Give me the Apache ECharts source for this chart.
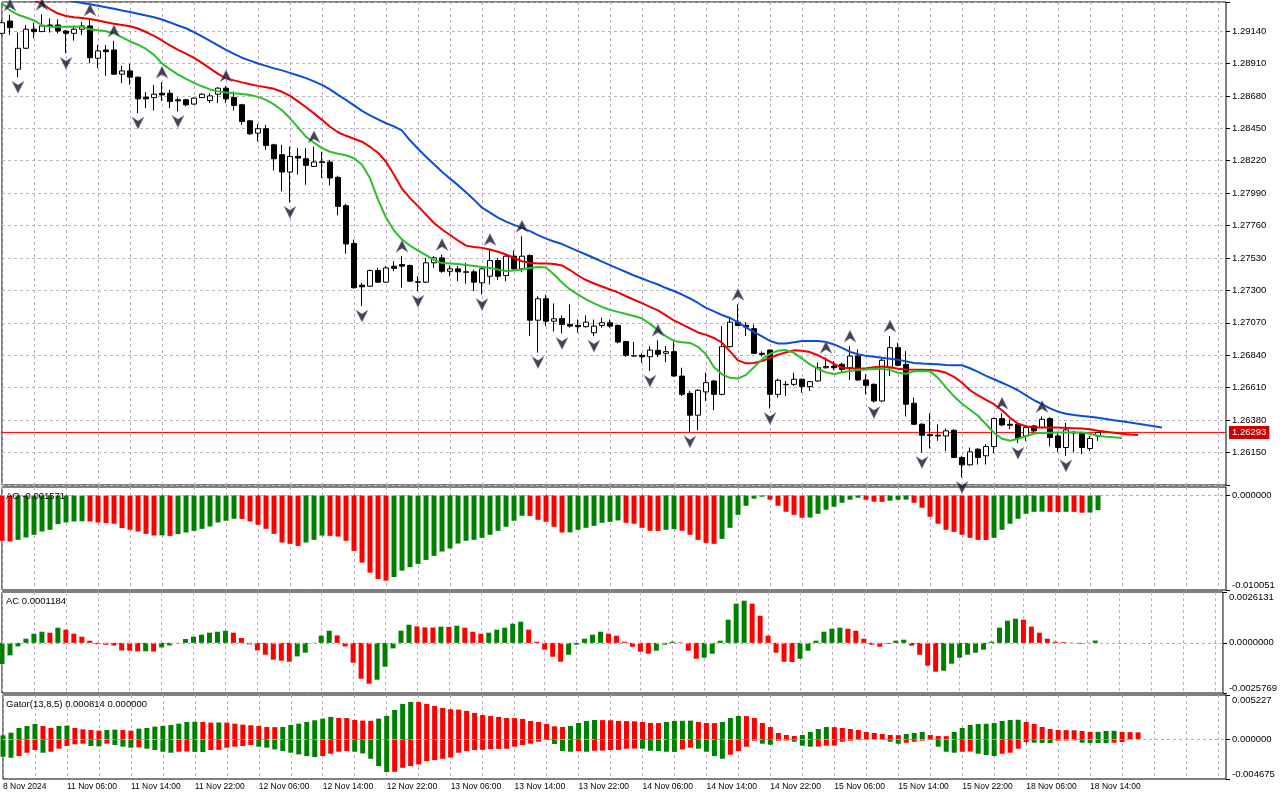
<!DOCTYPE html>
<html><head><meta charset="utf-8">
<script src="https://cdn.jsdelivr.net/npm/echarts/dist/echarts.min.js"></script>
<style>html,body{margin:0;padding:0;background:#fff}#c{width:1280px;height:800px}</style>
</head><body><div id="c"></div><script>
// ---- time tick labels (one every 8 hourly bars) ----
const tickLabels = ['8 Nov 2024','11 Nov 06:00','11 Nov 14:00','11 Nov 22:00','12 Nov 06:00','12 Nov 14:00','12 Nov 22:00','13 Nov 06:00','13 Nov 14:00','13 Nov 22:00','14 Nov 06:00','14 Nov 14:00','14 Nov 22:00','15 Nov 06:00','15 Nov 14:00','15 Nov 22:00','18 Nov 06:00','18 Nov 14:00'];
const slotCount = 154;
// ---- H1 candles ----
const opens = [1.29124,1.29211,1.28869,1.29018,1.29153,1.29136,1.29183,1.29183,1.29140,1.29124,
1.29153,1.29176,1.28947,1.29006,1.29006,1.28834,1.28857,1.28813,1.28671,1.28668,
1.28699,1.28699,1.28652,1.28652,1.28622,1.28668,1.28647,1.28692,1.28735,1.28668,
1.28617,1.28503,1.28416,1.28447,1.28333,1.28263,1.28140,1.28251,1.28234,1.28180,
1.28213,1.28211,1.28102,1.27901,1.27633,1.27337,1.27330,1.27441,1.27359,1.27472,
1.27484,1.27477,1.27361,1.27359,1.27496,1.27531,1.27436,1.27453,1.27432,1.27432,
1.27354,1.27401,1.27512,1.27406,1.27543,1.27453,1.27548,1.27089,1.27241,1.27082,
1.27101,1.27059,1.27052,1.27043,1.27000,1.27052,1.27071,1.27052,1.26937,1.26837,
1.26840,1.26830,1.26875,1.26854,1.26866,1.26693,1.26570,1.26415,1.26580,1.26658,
1.26563,1.26901,1.27075,1.27052,1.27029,1.26854,1.26877,1.26563,1.26631,1.26634,
1.26670,1.26618,1.26658,1.26752,1.26764,1.26776,1.26752,1.26835,1.26665,1.26634,
1.26516,1.26752,1.26894,1.26776,1.26500,1.26351,1.26277,1.26273,1.26268,1.26308,
1.26115,1.26063,1.26174,1.26127,1.26193,1.26391,1.26351,1.26351,1.26268,1.26339,
1.26328,1.26391,1.26268,1.26186,1.26294,1.26287,1.26179,1.26268];
const highs = [1.29218,1.29254,1.29129,1.29183,1.29199,1.29259,1.29230,1.29223,1.29148,1.29176,
1.29204,1.29218,1.29041,1.29041,1.29070,1.28893,1.28907,1.28815,1.28707,1.28758,
1.28777,1.28723,1.28668,1.28659,1.28670,1.28699,1.28699,1.28741,1.28751,1.28711,
1.28624,1.28510,1.28480,1.28475,1.28341,1.28333,1.28321,1.28310,1.28310,1.28319,
1.28284,1.28227,1.28114,1.27914,1.27661,1.27354,1.27448,1.27460,1.27472,1.27507,
1.27543,1.27484,1.27401,1.27531,1.27543,1.27555,1.27477,1.27472,1.27496,1.27448,
1.27459,1.27590,1.27531,1.27555,1.27583,1.27684,1.27555,1.27259,1.27271,1.27208,
1.27123,1.27201,1.27094,1.27123,1.27094,1.27106,1.27094,1.27059,1.26942,1.26934,
1.26854,1.26905,1.26946,1.26905,1.26934,1.26752,1.26587,1.26599,1.26717,1.26666,
1.27047,1.27113,1.27201,1.27075,1.27059,1.26868,1.26882,1.26675,1.26658,1.26717,
1.26675,1.26658,1.26788,1.26825,1.26799,1.26788,1.26905,1.26882,1.26705,1.26641,
1.26816,1.26976,1.26929,1.26870,1.26540,1.26358,1.26429,1.26351,1.26321,1.26316,
1.26127,1.26186,1.26181,1.26209,1.26397,1.26429,1.26386,1.26355,1.26344,1.26344,
1.26406,1.26401,1.26287,1.26360,1.26304,1.26297,1.26268,1.26297];
const lows = [1.29112,1.29112,1.28813,1.29013,1.29089,1.29133,1.29129,1.29124,1.28983,1.29072,
1.29112,1.28912,1.28876,1.28822,1.28829,1.28770,1.28758,1.28558,1.28593,1.28576,
1.28645,1.28593,1.28569,1.28605,1.28617,1.28666,1.28629,1.28629,1.28629,1.28576,
1.28475,1.28404,1.28357,1.28298,1.28151,1.28003,1.27925,1.28121,1.28050,1.28176,
1.28098,1.28045,1.27833,1.27560,1.27314,1.27189,1.27325,1.27353,1.27353,1.27436,
1.27319,1.27360,1.27295,1.27353,1.27460,1.27425,1.27401,1.27366,1.27349,1.27295,
1.27271,1.27342,1.27373,1.27366,1.27448,1.27429,1.26976,1.26859,1.27047,1.27009,
1.26995,1.27036,1.27000,1.27036,1.26976,1.27036,1.27036,1.26925,1.26828,1.26828,
1.26788,1.26728,1.26828,1.26792,1.26687,1.26551,1.26297,1.26308,1.26516,1.26452,
1.26556,1.26894,1.27047,1.26976,1.26849,1.26832,1.26462,1.26540,1.26551,1.26622,
1.26575,1.26587,1.26652,1.26745,1.26735,1.26717,1.26665,1.26658,1.26563,1.26505,
1.26510,1.26693,1.26762,1.26406,1.26344,1.26151,1.26179,1.26233,1.26160,1.26110,
1.25974,1.26057,1.26065,1.26065,1.26146,1.26337,1.26316,1.26217,1.26233,1.26292,
1.26321,1.26193,1.26151,1.26127,1.26151,1.26139,1.26162,1.26233];
const closes = [1.29199,1.29164,1.29018,1.29153,1.29136,1.29176,1.29176,1.29140,1.29124,1.29153,
1.29176,1.28951,1.28999,1.28994,1.28834,1.28857,1.28813,1.28659,1.28659,1.28692,
1.28687,1.28640,1.28645,1.28617,1.28664,1.28692,1.28680,1.28735,1.28659,1.28612,
1.28498,1.28411,1.28447,1.28328,1.28234,1.28140,1.28251,1.28239,1.28187,1.28211,
1.28208,1.28098,1.27896,1.27630,1.27319,1.27326,1.27441,1.27359,1.27460,1.27456,
1.27472,1.27366,1.27359,1.27496,1.27531,1.27436,1.27453,1.27432,1.27429,1.27359,
1.27453,1.27512,1.27401,1.27543,1.27453,1.27543,1.27089,1.27241,1.27082,1.27099,
1.27059,1.27047,1.27043,1.27075,1.27047,1.27071,1.27047,1.26934,1.26840,1.26835,
1.26830,1.26877,1.26847,1.26866,1.26693,1.26563,1.26415,1.26592,1.26646,1.26563,
1.26901,1.27075,1.27052,1.27040,1.26854,1.26847,1.26563,1.26663,1.26634,1.26670,
1.26618,1.26653,1.26752,1.26760,1.26752,1.26740,1.26835,1.26665,1.26627,1.26516,
1.26805,1.26894,1.26769,1.26493,1.26351,1.26273,1.26271,1.26268,1.26304,1.26115,
1.26063,1.26155,1.26115,1.26193,1.26391,1.26346,1.26344,1.26250,1.26328,1.26304,
1.26386,1.26257,1.26186,1.26311,1.26289,1.26186,1.26250,1.26293];
const lastPrice = 1.26293;
// ---- Alligator (values as drawn, already shifted) ----
const jaw = [1.29452,1.29441,1.29431,1.29417,1.29406,1.29395,1.29385,1.29374,1.29360,1.29349,
1.29339,1.29330,1.29320,1.29309,1.29298,1.29286,1.29275,1.29263,1.29250,1.29238,
1.29222,1.29201,1.29179,1.29160,1.29133,1.29102,1.29070,1.29038,1.29006,1.28978,
1.28951,1.28930,1.28910,1.28893,1.28875,1.28861,1.28843,1.28825,1.28806,1.28783,
1.28758,1.28726,1.28687,1.28652,1.28613,1.28574,1.28542,1.28514,1.28486,1.28464,
1.28433,1.28365,1.28305,1.28248,1.28195,1.28142,1.28093,1.28047,1.27997,1.27944,
1.27887,1.27852,1.27817,1.27788,1.27765,1.27744,1.27721,1.27693,1.27668,1.27647,
1.27629,1.27604,1.27579,1.27555,1.27530,1.27505,1.27480,1.27455,1.27431,1.27406,
1.27385,1.27363,1.27342,1.27317,1.27296,1.27271,1.27243,1.27211,1.27176,1.27151,
1.27126,1.27105,1.27073,1.27038,1.27005,1.26974,1.26942,1.26924,1.26924,1.26932,
1.26941,1.26942,1.26942,1.26934,1.26917,1.26893,1.26864,1.26847,1.26836,1.26829,
1.26822,1.26815,1.26808,1.26797,1.26786,1.26781,1.26779,1.26776,1.26772,1.26770,
1.26769,1.26748,1.26723,1.26694,1.26670,1.26645,1.26620,1.26592,1.26556,1.26521,
1.26493,1.26464,1.26440,1.26425,1.26416,1.26410,1.26404,1.26397,1.26388,1.26379,
1.26372,1.26363,1.26355,1.26345,1.26337,1.26328];
const teeth = [1.29445,1.29417,1.29395,1.29374,1.29356,1.29335,1.29296,1.29264,1.29247,1.29238,
1.29233,1.29225,1.29215,1.29202,1.29192,1.29183,1.29174,1.29158,1.29133,1.29105,
1.29073,1.29038,1.29006,1.28980,1.28949,1.28914,1.28875,1.28836,1.28804,1.28790,
1.28776,1.28763,1.28751,1.28742,1.28730,1.28709,1.28680,1.28641,1.28599,1.28556,
1.28510,1.28461,1.28422,1.28397,1.28376,1.28355,1.28319,1.28277,1.28213,1.28121,
1.28022,1.27955,1.27898,1.27838,1.27778,1.27732,1.27693,1.27654,1.27618,1.27608,
1.27602,1.27590,1.27574,1.27555,1.27530,1.27507,1.27496,1.27491,1.27491,1.27487,
1.27477,1.27445,1.27406,1.27374,1.27349,1.27328,1.27307,1.27286,1.27259,1.27234,
1.27210,1.27184,1.27158,1.27123,1.27087,1.27059,1.27031,1.27002,1.26985,1.26963,
1.26929,1.26868,1.26804,1.26783,1.26786,1.26799,1.26822,1.26844,1.26861,1.26875,
1.26873,1.26863,1.26840,1.26811,1.26779,1.26752,1.26748,1.26745,1.26749,1.26755,
1.26760,1.26755,1.26744,1.26739,1.26738,1.26737,1.26735,1.26731,1.26716,1.26687,
1.26645,1.26592,1.26556,1.26524,1.26493,1.26450,1.26397,1.26355,1.26337,1.26328,
1.26328,1.26328,1.26327,1.26325,1.26323,1.26321,1.26316,1.26305,1.26298,1.26291,
1.26284,1.26279,1.26275];
const lips = [1.29339,1.29286,1.29256,1.29236,1.29215,1.29181,1.29171,1.29170,1.29171,1.29172,
1.29171,1.29153,1.29145,1.29138,1.29123,1.29095,1.29066,1.29043,1.29013,1.28971,
1.28910,1.28868,1.28831,1.28801,1.28772,1.28748,1.28726,1.28712,1.28704,1.28698,
1.28693,1.28687,1.28673,1.28652,1.28620,1.28578,1.28521,1.28457,1.28390,1.28348,
1.28309,1.28284,1.28270,1.28259,1.28238,1.28192,1.28096,1.27944,1.27817,1.27725,
1.27661,1.27618,1.27583,1.27551,1.27516,1.27494,1.27491,1.27487,1.27480,1.27473,
1.27466,1.27459,1.27448,1.27438,1.27441,1.27448,1.27459,1.27466,1.27463,1.27413,
1.27356,1.27307,1.27271,1.27236,1.27208,1.27183,1.27162,1.27148,1.27133,1.27119,
1.27101,1.27063,1.27017,1.26974,1.26942,1.26932,1.26928,1.26900,1.26847,1.26755,
1.26705,1.26680,1.26675,1.26701,1.26755,1.26811,1.26850,1.26873,1.26877,1.26857,
1.26816,1.26776,1.26743,1.26719,1.26707,1.26719,1.26729,1.26735,1.26740,1.26745,
1.26743,1.26737,1.26716,1.26709,1.26726,1.26728,1.26726,1.26680,1.26613,1.26549,
1.26496,1.26454,1.26411,1.26351,1.26291,1.26248,1.26234,1.26248,1.26266,1.26285,
1.26289,1.26291,1.26292,1.26292,1.26292,1.26292,1.26284,1.26270,1.26263,1.26258,
1.26254];
// ---- Fractals (bar indices) ----
const fractalUp = [1,5,11,14,20,28,39,50,55,61,65,82,92,103,106,111,125,130];
const fractalDown = [2,8,17,22,36,45,52,60,67,70,74,81,86,96,109,115,120,127,133];
// ---- Awesome Oscillator ----
const ao = [-0.00483,-0.00491,-0.00473,-0.00448,-0.00419,-0.00384,-0.00366,-0.00306,-0.00288,-0.00278,
-0.00276,-0.00278,-0.00288,-0.00295,-0.00302,-0.00348,-0.00366,-0.00384,-0.00409,-0.00427,
-0.00425,-0.00431,-0.00412,-0.00395,-0.00377,-0.00356,-0.00331,-0.00288,-0.00270,-0.00249,
-0.00251,-0.00278,-0.00313,-0.00356,-0.00409,-0.00501,-0.00515,-0.00537,-0.00501,-0.00473,
-0.00427,-0.00430,-0.00438,-0.00483,-0.00590,-0.00714,-0.00821,-0.00888,-0.00906,-0.00867,
-0.00800,-0.00763,-0.00728,-0.00686,-0.00643,-0.00597,-0.00565,-0.00512,-0.00483,-0.00473,
-0.00451,-0.00419,-0.00377,-0.00334,-0.00270,-0.00217,-0.00219,-0.00260,-0.00281,-0.00334,
-0.00395,-0.00393,-0.00366,-0.00345,-0.00324,-0.00292,-0.00281,-0.00267,-0.00292,-0.00302,
-0.00345,-0.00377,-0.00378,-0.00366,-0.00359,-0.00377,-0.00419,-0.00473,-0.00505,-0.00515,
-0.00462,-0.00345,-0.00207,-0.00111,-0.00036,-0.00015,-0.00047,-0.00111,-0.00175,-0.00207,
-0.00238,-0.00236,-0.00196,-0.00153,-0.00121,-0.00079,-0.00047,-0.00026,-0.00047,-0.00068,
-0.00069,-0.00057,-0.00047,-0.00046,-0.00079,-0.00132,-0.00228,-0.00302,-0.00366,-0.00388,
-0.00419,-0.00451,-0.00473,-0.00474,-0.00451,-0.00366,-0.00302,-0.00249,-0.00196,-0.00175,
-0.00174,-0.00176,-0.00177,-0.00175,-0.00176,-0.00185,-0.00182,-0.001571];
// ---- Accelerator Oscillator ----
const ac = [-0.001087,-0.000645,-0.000182,0.000213,0.000470,0.000573,0.000522,0.000779,0.000676,0.000470,
0.000316,0.000110,-0.000070,-0.000100,-0.000131,-0.000388,-0.000403,-0.000439,-0.000430,-0.000445,
-0.000234,-0.000131,-0.000010,0.000198,0.000316,0.000419,0.000522,0.000573,0.000624,0.000522,
0.000249,-0.000080,-0.000388,-0.000609,-0.000866,-0.000917,-0.000969,-0.000696,-0.000506,0.000010,
0.000367,0.000624,0.000383,-0.000182,-0.001020,-0.001842,-0.002099,-0.001894,-0.001226,-0.000285,
0.000624,0.000933,0.000845,0.000794,0.000790,0.000830,0.000820,0.000881,0.000779,0.000573,
0.000470,0.000522,0.000676,0.000779,0.000984,0.001087,0.000676,0.000059,-0.000352,-0.000712,
-0.000969,-0.000609,-0.000095,0.000213,0.000419,0.000573,0.000470,0.000367,0.000059,-0.000198,
-0.000455,-0.000558,-0.000403,-0.000095,0.000059,0.000020,-0.000403,-0.000815,-0.000763,-0.000558,
0.000110,0.001190,0.002012,0.002166,0.002012,0.001395,0.000367,-0.000506,-0.000969,-0.000985,
-0.000815,-0.000403,0.000110,0.000573,0.000727,0.000779,0.000727,0.000624,0.000213,-0.000095,
-0.000198,-0.000044,0.000110,0.000162,-0.000146,-0.000609,-0.001174,-0.001483,-0.001431,-0.001071,
-0.000763,-0.000609,-0.000506,-0.000352,0.000059,0.000779,0.001138,0.001241,0.001190,0.000830,
0.000522,0.000213,0.000059,0.000040,0.000010,-0.000044,-0.000010,0.0001184];
// ---- Gator Oscillator (upper / lower histograms) ----
const gatorUp = [0.000473,0.000789,0.001341,0.001577,0.001814,0.001577,0.001341,0.001577,0.001617,0.001341,
0.001183,0.001104,0.001025,0.001104,0.001143,0.001104,0.001025,0.001262,0.001341,0.001498,
0.001577,0.001695,0.001853,0.002050,0.002070,0.002050,0.001972,0.001991,0.001972,0.001853,
0.001735,0.001656,0.001577,0.001459,0.001439,0.001459,0.001695,0.001853,0.002050,0.002248,
0.002445,0.002642,0.002524,0.002504,0.002287,0.002208,0.002188,0.002445,0.002760,0.003470,
0.004180,0.004416,0.004396,0.004180,0.003943,0.003706,0.003549,0.003509,0.003352,0.003115,
0.002878,0.002760,0.002642,0.002524,0.002504,0.002405,0.002169,0.002050,0.001814,0.001538,
0.001459,0.001577,0.001932,0.002169,0.002287,0.002267,0.002248,0.002169,0.002149,0.002129,
0.002050,0.001932,0.001912,0.002050,0.002169,0.002188,0.002208,0.002050,0.001932,0.001912,
0.002050,0.002524,0.002760,0.002740,0.002524,0.001932,0.001459,0.000749,0.000513,0.000394,
0.000513,0.000867,0.001222,0.001459,0.001439,0.001341,0.001222,0.001104,0.000867,0.000749,
0.000631,0.000513,0.000493,0.000631,0.000749,0.000867,0.000513,0.000394,0.000375,0.000867,
0.001341,0.001695,0.001814,0.001833,0.001932,0.002169,0.002287,0.002307,0.002050,0.001814,
0.001459,0.001222,0.001104,0.001084,0.001065,0.000986,0.000867,0.000887,0.000986,0.001005,
0.000867,0.000848,0.000828];
const gatorDown = [-0.002050,-0.002169,-0.001972,-0.001577,-0.001262,-0.001577,-0.001459,-0.001104,-0.000789,-0.000591,
-0.000513,-0.000789,-0.000828,-0.000513,-0.000670,-0.000867,-0.000986,-0.000946,-0.001104,-0.001262,
-0.001459,-0.001577,-0.001459,-0.001439,-0.001479,-0.001498,-0.001262,-0.001242,-0.000986,-0.000867,
-0.000789,-0.000670,-0.000867,-0.000986,-0.001183,-0.001380,-0.001577,-0.001774,-0.001972,-0.002090,
-0.001972,-0.001695,-0.001459,-0.001380,-0.001459,-0.001656,-0.002287,-0.003154,-0.003864,-0.003825,
-0.003352,-0.003154,-0.002957,-0.002563,-0.002445,-0.002287,-0.002129,-0.001577,-0.001380,-0.001262,
-0.001242,-0.001143,-0.001124,-0.001104,-0.000867,-0.000670,-0.000513,-0.000276,-0.000079,-0.000552,
-0.001380,-0.001459,-0.001380,-0.001459,-0.001341,-0.001321,-0.001262,-0.001242,-0.001104,-0.001084,
-0.001104,-0.001341,-0.001380,-0.001459,-0.001479,-0.001183,-0.000986,-0.001104,-0.001459,-0.001972,
-0.002287,-0.001814,-0.001380,-0.000867,-0.000158,-0.000513,-0.000631,-0.000158,-0.000138,-0.000276,
-0.000749,-0.000867,-0.000848,-0.000749,-0.000729,-0.000276,-0.000158,-0.000039,-0.000020,-0.000012,
-0.000039,-0.000276,-0.000513,-0.000394,-0.000276,-0.000158,-0.000039,-0.000867,-0.001459,-0.001577,
-0.001459,-0.001439,-0.001695,-0.001853,-0.001972,-0.001695,-0.001577,-0.001104,-0.000315,-0.000394,
-0.000414,-0.000434,-0.000158,-0.000138,-0.000118,-0.000394,-0.000414,-0.000434,-0.000453,-0.000394,
-0.000315,null,null];
// ---- axis ranges as shown on the scales ----
const priceMin = 1.2592, priceMax = 1.29346, priceStep = 0.0023;
const aoMin = -0.010051, aoMax = 0.000882;
const acMin = -0.0025769, acMax = 0.0026131;
const gtMin = -0.004675, gtMax = 0.005227;

const GREEN = '#008000', RED = '#ff0000';
const FONT = 'Liberation Sans, Arial, sans-serif';
const GRIDV = '#c3aac3', GRIDH = '#b3bcb3';

function dirColors(vals, firstColor, useAbs) {
  const out = []; let prev = firstColor;
  for (let i = 0; i < vals.length; i++) {
    const v = vals[i];
    if (v == null) { out.push(prev); continue; }
    if (i === 0 || vals[i-1] == null) { out.push(firstColor); prev = firstColor; continue; }
    const a = useAbs ? Math.abs(v) : v, b = useAbs ? Math.abs(vals[i-1]) : vals[i-1];
    const c = a > b ? GREEN : (a < b ? RED : prev);
    out.push(c); prev = c;
  }
  return out;
}
function barData(vals, colors) {
  return vals.map((v, i) => v == null ? '-' : { value: v, itemStyle: { color: colors[i] } });
}

const cats = Array.from({ length: slotCount }, (_, i) => String(i));
const candles = opens.map((o, i) => [o, closes[i], lows[i], highs[i]]);
const priceLine = cats.map(() => lastPrice);
const grids = [
  { left: 2, right: 54, top: 2, height: 483 },
  { left: 2, right: 54, top: 487, height: 103 },
  { left: 2, right: 54, top: 592, height: 101 },
  { left: 2, right: 54, top: 695, height: 84 }
].map(g => Object.assign(g, { show: true, borderColor: '#000', borderWidth: 1, backgroundColor: '#fff' }));

function xAxisFor(gi, withLabels) {
  return {
    type: 'category', gridIndex: gi, data: cats, boundaryGap: false,
    axisLine: { show: false },
    axisTick: withLabels ? { show: true, length: 4, lineStyle: { color: '#000' }, interval: (i) => i % 8 === 0 && i / 8 < tickLabels.length } : { show: false },
    axisLabel: withLabels ? {
      show: true, interval: (i) => i % 8 === 0 && i / 8 < tickLabels.length,
      formatter: (v, i) => tickLabels[i / 8] || '', align: 'left', margin: 3,
      fontSize: 8.5, fontFamily: FONT, color: '#000'
    } : { show: false },
    splitLine: { show: true, interval: (i) => i % 4 === 0, lineStyle: { color: GRIDV, type: [3, 3], width: 1 } }
  };
}
function subY(gi, mn, mx, dec) {
  return {
    type: 'value', gridIndex: gi, position: 'right', min: mn, max: mx, scale: true,
    axisLine: { show: false },
    axisTick: { show: true, length: 4, lineStyle: { color: '#000' }, customValues: [mn, 0, mx] },
    axisLabel: { show: true, customValues: [mn, 0, mx], margin: 6, fontSize: 9.5, fontFamily: FONT, color: '#000',
      hideOverlap: false, verticalAlignMinLabel: 'bottom', verticalAlignMaxLabel: 'top',
      formatter: (v) => v.toFixed(dec) },
    splitLine: { show: false }
  };
}
const zeroLine = () => ({ symbol: ['none', 'none'], silent: true, animation: false, label: { show: false },
  lineStyle: { color: '#b0b0b0', type: [3, 3], width: 1 }, data: [{ yAxis: 0 }] });

const upArrow = 'path://M0,0 L6,11 L0,7.5 L-6,11 Z';
const downArrow = 'path://M0,11 L6,0 L0,3.5 L-6,0 Z';
const txt = (s, top) => ({ text: s, left: 6, top: top, padding: 0,
  textStyle: { fontSize: 9.5, fontWeight: 'normal', fontFamily: FONT, color: '#000' } });

const option = {
  animation: false,
  backgroundColor: '#fff',
  title: [txt('AO -0.001571', 491), txt('AC 0.0001184', 596), txt('Gator(13,8,5) 0.000814 0.000000', 699)],
  grid: grids,
  xAxis: [xAxisFor(0, false), xAxisFor(1, false), xAxisFor(2, false), xAxisFor(3, true)],
  yAxis: [
    { type: 'value', gridIndex: 0, position: 'right', min: priceMin, max: priceMax, interval: priceStep,
      axisLine: { show: false },
      axisTick: { show: true, length: 4, lineStyle: { color: '#000' } },
      axisLabel: { margin: 6, fontSize: 9.5, fontFamily: FONT, color: '#000',
        formatter: (v) => { const k = (v - priceMin) / priceStep; const r = Math.round(k);
          return (Math.abs(k - r) > 1e-6 || r === 0) ? '' : v.toFixed(5); } },
      splitLine: { show: true, lineStyle: { color: GRIDH, type: [3, 3], width: 1 } } },
    subY(1, aoMin, aoMax, 6),
    subY(2, acMin, acMax, 7),
    subY(3, gtMin, gtMax, 6),
    // price tag axis (current bid)
    { type: 'value', gridIndex: 0, position: 'right', min: priceMin, max: priceMax,
      axisLine: { show: false }, splitLine: { show: false },
      axisTick: { show: false, customValues: [lastPrice] },
      axisLabel: { show: true, customValues: [lastPrice], margin: 3, fontSize: 9.5, fontFamily: FONT,
        color: '#fff', backgroundColor: '#cc0000', padding: [2, 3, 1, 3], formatter: (v) => v.toFixed(5) } }
  ],
  series: [
    { type: 'line', name: 'Bid', xAxisIndex: 0, yAxisIndex: 0, data: priceLine, showSymbol: false, silent: true,
      lineStyle: { color: '#ff0000', width: 1 }, z: 1 },
    { type: 'candlestick', xAxisIndex: 0, yAxisIndex: 0, data: candles, barWidth: 5, z: 2,
      itemStyle: { color: '#ffffff', color0: '#000000', borderColor: '#000000', borderColor0: '#000000', borderWidth: 1 } },
    { type: 'line', name: 'Jaw', xAxisIndex: 0, yAxisIndex: 0, data: jaw, showSymbol: false, clip: true,
      lineStyle: { color: '#0a4fd6', width: 2 }, z: 3 },
    { type: 'line', name: 'Teeth', xAxisIndex: 0, yAxisIndex: 0, data: teeth, showSymbol: false, clip: true,
      lineStyle: { color: '#ee0000', width: 2 }, z: 3 },
    { type: 'line', name: 'Lips', xAxisIndex: 0, yAxisIndex: 0, data: lips, showSymbol: false, clip: true,
      lineStyle: { color: '#2cbf2c', width: 2 }, z: 3 },
    { type: 'scatter', xAxisIndex: 0, yAxisIndex: 0, symbol: upArrow, symbolSize: [12, 12], symbolOffset: [0, -10],
      data: fractalUp.map(i => [i, highs[i]]), itemStyle: { color: '#15152a', borderColor: '#8888aa', borderWidth: 0.5 }, z: 5 },
    { type: 'scatter', xAxisIndex: 0, yAxisIndex: 0, symbol: downArrow, symbolSize: [12, 12], symbolOffset: [0, 10],
      data: fractalDown.map(i => [i, lows[i]]), itemStyle: { color: '#15152a', borderColor: '#8888aa', borderWidth: 0.5 }, z: 5 },
    { type: 'bar', xAxisIndex: 1, yAxisIndex: 1, barWidth: 5, data: barData(ao, dirColors(ao, RED, false)), markLine: zeroLine() },
    { type: 'bar', xAxisIndex: 2, yAxisIndex: 2, barWidth: 5, data: barData(ac, dirColors(ac, GREEN, false)), markLine: zeroLine() },
    { type: 'bar', xAxisIndex: 3, yAxisIndex: 3, barWidth: 5, data: barData(gatorUp, dirColors(gatorUp, GREEN, true)), markLine: zeroLine() },
    { type: 'bar', xAxisIndex: 3, yAxisIndex: 3, barWidth: 5, barGap: '-100%', data: barData(gatorDown, dirColors(gatorDown, GREEN, true)) }
  ]
};
const chart = echarts.init(document.getElementById('c'), null, { renderer: 'canvas' });
chart.setOption(option);
</script></body></html>
